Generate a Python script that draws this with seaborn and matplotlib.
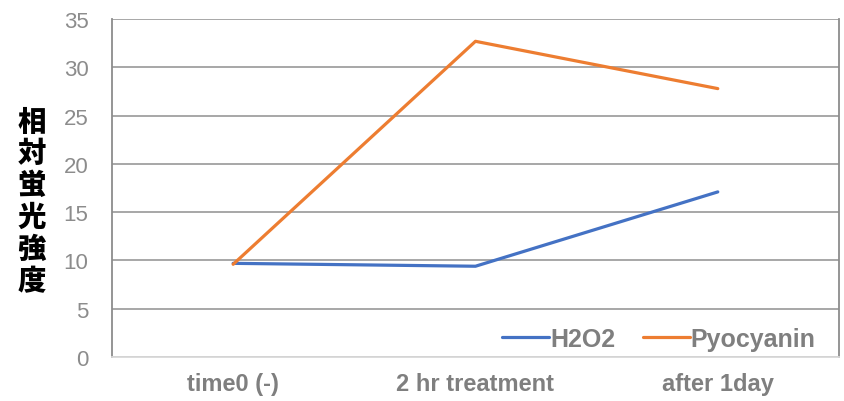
import matplotlib
matplotlib.use("Agg")
import matplotlib.pyplot as plt
import seaborn as sns
import pandas as pd

# Measurement stages and relative fluorescence per treatment
stages = ["time0 (-)", "2 hr treatment", "after 1day"]
h2o2 = [9.7, 9.4, 17.1]
pyocyanin = [9.6, 32.7, 27.8]
y_ticks = [0, 5, 10, 15, 20, 25, 30, 35]
y_label = "相対蛍光強度"

df = pd.DataFrame({
    "stage": stages * 2,
    "value": h2o2 + pyocyanin,
    "series": ["H2O2"] * len(stages) + ["Pyocyanin"] * len(stages),
})

sns.set_theme(style="white")
plt.rcParams["font.family"] = ["Liberation Sans", "Noto Sans CJK JP", "DejaVu Sans"]

fig = plt.figure(figsize=(8.44, 4.02), dpi=100)
ax = fig.add_axes([0.1327, 0.1095, 0.8613, 0.8405])

palette = {"H2O2": "#4472C4", "Pyocyanin": "#ED7D31"}
sns.lineplot(data=df, x="stage", y="value", hue="series", palette=palette,
             linewidth=2.3, sort=False, ax=ax, zorder=3)

ax.set_xlim(-0.5, 2.5)
ax.set_ylim(0, 35)
ax.set_yticks(y_ticks)
ax.yaxis.grid(True, color="#a0a0a0", linewidth=1.3, zorder=0)
ax.set_axisbelow(True)

for side in ["left", "right"]:
    ax.spines[side].set_color("#8c8c8c")
    ax.spines[side].set_linewidth(1.3)
ax.spines["top"].set_visible(False)
ax.spines["bottom"].set_color("#d9d9d9")
ax.spines["bottom"].set_linewidth(1.3)

ax.tick_params(axis="y", length=0, pad=17, labelsize=16, labelcolor="#8c8c8c")
ax.tick_params(axis="x", length=0, pad=11, labelsize=17, labelcolor="#7f7f7f")
for lbl in ax.get_xticklabels():
    lbl.set_fontweight("bold")

ax.set_xlabel("")
ax.set_ylabel("")
fig.text(0.0373, 0.499, "\n".join(y_label), ha="center", va="center",
         fontsize=20.5, fontweight="heavy", color="black", linespacing=1.1,
         family=["Noto Sans CJK JP", "DejaVu Sans"])

leg = ax.legend(loc="center right", bbox_to_anchor=(0.968, 0.053), ncol=2,
                frameon=False, fontsize=18, handlelength=1.88, handletextpad=0.05,
                columnspacing=1.1, borderaxespad=0, borderpad=0)
for txt in leg.get_texts():
    txt.set_color("#7f7f7f")
    txt.set_fontweight("bold")
for line in leg.get_lines():
    line.set_linewidth(2.3)

fig.savefig("out.png", dpi=100)
